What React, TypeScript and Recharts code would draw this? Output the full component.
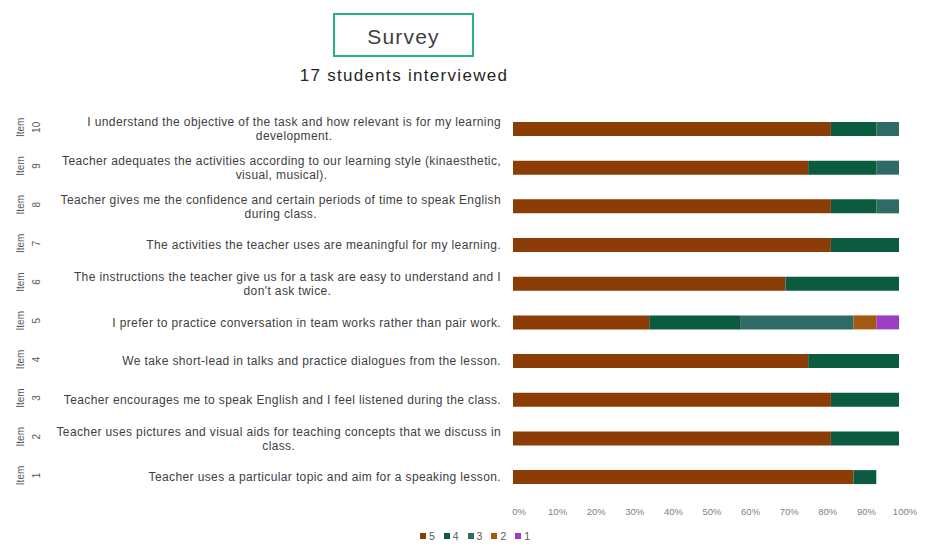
import React from 'react';
import { BarChart, Bar, XAxis, YAxis, Legend } from 'recharts';

const TOTAL = 17;
const itemNumbers = ['1', '2', '3', '4', '5', '6', '7', '8', '9', '10'];
const questions: string[][] = [
  ['Teacher uses a particular topic and aim for a speaking lesson.'],
  ['Teacher uses pictures and visual aids for teaching concepts that we discuss in', 'class.'],
  ['Teacher encourages me to speak English and I feel listened during the class.'],
  ['We take short-lead in talks and practice dialogues from the lesson.'],
  ['I prefer to practice conversation in team works rather than pair work.'],
  ['The instructions the teacher give us for a task are easy to understand and I', "don't ask twice."],
  ['The activities the teacher uses are meaningful for my learning.'],
  ['Teacher gives me the confidence and certain periods of time to speak English', 'during class.'],
  ['Teacher adequates the activities according to our learning style (kinaesthetic,', 'visual, musical).'],
  ['I understand the objective of the task and how relevant is for my learning', 'development.'],
];
// counts of students (out of 17) per answer level
const s5 = [15, 14, 14, 13, 6, 12, 14, 14, 13, 14];
const s4 = [1, 3, 3, 4, 4, 5, 3, 2, 3, 2];
const s3 = [0, 0, 0, 0, 5, 0, 0, 1, 1, 1];
const s2 = [0, 0, 0, 0, 1, 0, 0, 0, 0, 0];
const s1 = [0, 0, 0, 0, 1, 0, 0, 0, 0, 0];
const levels = ['5', '4', '3', '2', '1'];
const xTicks = [0, 0.1, 0.2, 0.3, 0.4, 0.5, 0.6, 0.7, 0.8, 0.9, 1];

const data = itemNumbers.map((n, i) => ({
  item: n,
  '5': s5[i] / TOTAL,
  '4': s4[i] / TOTAL,
  '3': s3[i] / TOTAL,
  '2': s2[i] / TOTAL,
  '1': s1[i] / TOTAL,
}));

const FONT = '"Liberation Sans", Arial, sans-serif';

const CategoryTick = (props: any) => {
  const { y, payload, index } = props;
  const i = itemNumbers.indexOf(String(payload.value));
  const lines = questions[i >= 0 ? i : index] || [];
  return (
    <g>
      <text
        transform={`translate(20, ${y - 2}) rotate(-90)`}
        textAnchor="middle"
        dominantBaseline="central"
        fontSize={10}
        fill="#595959"
        fontFamily={FONT}
      >
        Item
      </text>
      <text
        transform={`translate(36, ${y - 2}) rotate(-90)`}
        textAnchor="middle"
        dominantBaseline="central"
        fontSize={10}
        fill="#595959"
        fontFamily={FONT}
      >
        {payload.value}
      </text>
      <foreignObject x={44} y={y - 20} width={457} height={40}>
        <div
          style={{
            display: 'flex',
            justifyContent: 'flex-end',
            alignItems: 'center',
            height: '100%',
            fontFamily: FONT,
            fontSize: 12,
            letterSpacing: 0.38,
            lineHeight: '14px',
            color: '#404040',
          }}
        >
          <div style={{ textAlign: 'center', whiteSpace: 'nowrap' }}>
            {lines.map((l, k) => (
              <div key={k}>{l}</div>
            ))}
          </div>
        </div>
      </foreignObject>
    </g>
  );
};

const colors: Record<string, string> = {
  '5': '#8C3D06',
  '4': '#0B5C3F',
  '3': '#2E6B67',
  '2': '#A35A10',
  '1': '#9B3EC4',
};

const LegendContent = (props: any) => {
  const payload = [...(props.payload || [])].sort(
    (a: any, b: any) => Number(b.value) - Number(a.value)
  );
  return (
    <div style={{ textAlign: 'center', fontFamily: FONT, fontSize: 10.5, color: '#595959', lineHeight: '12px' }}>
      {payload.map((e: any) => (
        <span key={e.value} style={{ marginRight: 9, whiteSpace: 'nowrap' }}>
          <span
            style={{
              display: 'inline-block',
              width: 6,
              height: 6,
              background: e.color,
              marginRight: 3,
              verticalAlign: 'middle',
            }}
          />
          <span style={{ verticalAlign: 'middle' }}>{e.value}</span>
        </span>
      ))}
    </div>
  );
};

export default function App() {
  return (
    <div style={{ position: 'absolute', left: 0, top: 0, width: 932, height: 544, background: '#fff' }}>
      <div
        style={{
          position: 'absolute',
          left: 333,
          top: 13,
          width: 141,
          height: 44,
          boxSizing: 'border-box',
          border: '2px solid #2BAE8E',
          display: 'flex',
          alignItems: 'center',
          justifyContent: 'center',
          fontFamily: FONT,
          fontSize: 21,
          letterSpacing: 1.2,
          paddingTop: 3,
          color: '#404040',
        }}
      >
        Survey
      </div>
      <div
        style={{
          position: 'absolute',
          left: 204,
          top: 66,
          width: 400,
          textAlign: 'center',
          fontFamily: FONT,
          fontSize: 17,
          letterSpacing: 1.3,
          color: '#262626',
        }}
      >
        17 students interviewed
      </div>
      <BarChart
        width={932}
        height={544}
        layout="vertical"
        data={data}
        margin={{ top: 110, right: 33, bottom: 2, left: 0 }}
        barSize={14}
        style={{ fontFamily: FONT }}
      >
        <XAxis
          type="number"
          domain={[0, 1]}
          ticks={xTicks}
          tickFormatter={(v: number) => `${Math.round(v * 100)}%`}
          axisLine={false}
          tickLine={false}
          tick={{ fontSize: 9.5, fill: '#7f7f7f', dx: 6 }}
          tickMargin={5}
          height={32}
          interval={0}
        />
        <YAxis
          type="category"
          dataKey="item"
          reversed
          width={513}
          axisLine={false}
          tickLine={false}
          interval={0}
          tick={<CategoryTick />}
        />
        <Legend verticalAlign="bottom" align="center" wrapperStyle={{ left: 30 }} content={<LegendContent />} />
        {levels.map((k) => (
          <Bar key={k} dataKey={k} name={k} stackId="a" fill={colors[k]} isAnimationActive={false} />
        ))}
      </BarChart>
    </div>
  );
}
